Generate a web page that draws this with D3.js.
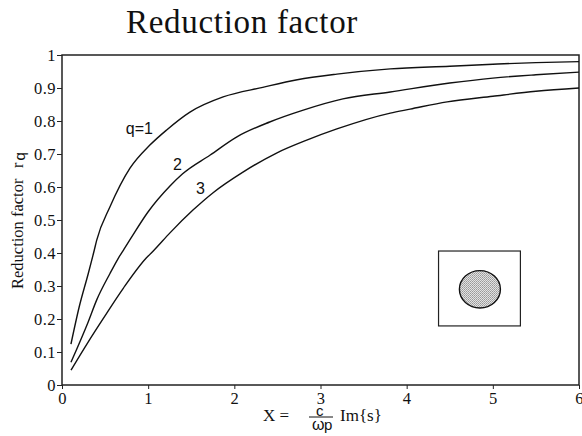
<!DOCTYPE html>
<html>
<head>
<meta charset="utf-8">
<script src="https://cdn.jsdelivr.net/npm/d3@7"></script>
<style>
  html, body { margin: 0; padding: 0; background: #fff; }
  svg { display: block; }
  text { fill: #111; }
  .serif { font-family: "Liberation Serif", serif; }
  .sans { font-family: "Liberation Sans", sans-serif; }
</style>
</head>
<body>
<div id="chart"></div>
<script>
// Values
const xTicks = [0, 1, 2, 3, 4, 5, 6];
const yTicks = [0, 0.1, 0.2, 0.3, 0.4, 0.5, 0.6, 0.7, 0.8, 0.9, 1];

const q1X = [0.104, 0.2, 0.305, 0.375, 0.403, 0.557, 0.789, 1.02, 1.215, 1.485, 1.87, 2.33, 2.73, 3.19, 3.81, 4.5, 5, 5.5, 6];
const q1Y = [0.124, 0.237, 0.338, 0.409, 0.439, 0.54, 0.657, 0.727, 0.773, 0.827, 0.873, 0.902, 0.925, 0.942, 0.958, 0.966, 0.972, 0.977, 0.98];

const q2X = [0.104, 0.305, 0.403, 0.557, 0.653, 0.72, 0.8, 1, 1.253, 1.4, 1.72, 2.03, 2.41, 2.8, 3.26, 3.81, 4.5, 5, 5.5, 6];
const q2Y = [0.069, 0.192, 0.258, 0.338, 0.384, 0.412, 0.445, 0.525, 0.603, 0.64, 0.697, 0.752, 0.797, 0.833, 0.867, 0.888, 0.915, 0.93, 0.94, 0.948];

const q3X = [0.104, 0.305, 0.48, 0.711, 0.975, 1.07, 1.253, 1.52, 1.75, 2.1, 2.49, 2.84, 3.19, 3.81, 4.04, 4.47, 5, 5.5, 6];
const q3Y = [0.045, 0.131, 0.202, 0.293, 0.384, 0.409, 0.461, 0.53, 0.582, 0.645, 0.703, 0.742, 0.776, 0.824, 0.836, 0.858, 0.875, 0.89, 0.9];

const curveLabels = ["q=1", "2", "3"];

// Dimensions
const margin = { top: 55, right: 3, bottom: 51, left: 62 },
      width = 582 - margin.left - margin.right,
      height = 436 - margin.top - margin.bottom;

const root = d3.select("#chart")
  .append("svg")
  .attr("width", 582)
  .attr("height", 436);

// Stipple for the disc in the inset
const pattern = root.append("defs").append("pattern")
  .attr("id", "stipple")
  .attr("width", 2)
  .attr("height", 2)
  .attr("patternUnits", "userSpaceOnUse");
pattern.append("rect").attr("width", 2).attr("height", 2).attr("fill", "#e2e2e2");
pattern.append("rect").attr("width", 1).attr("height", 1).attr("fill", "#999");
pattern.append("rect").attr("x", 1).attr("y", 1).attr("width", 1).attr("height", 1).attr("fill", "#aaa");

const svg = root.append("g")
  .attr("transform", `translate(${margin.left},${margin.top})`);

// Scales
const xScale = d3.scaleLinear().domain([0, 6]).range([0, width]);
const yScale = d3.scaleLinear().domain([0, 1]).range([height, 0]);

// Frame
svg.append("rect")
  .attr("width", width)
  .attr("height", height)
  .attr("fill", "none")
  .attr("stroke", "#222")
  .attr("stroke-width", 1.5);

// Axes
const xAxis = svg.append("g")
  .attr("transform", `translate(0, ${height})`)
  .call(d3.axisBottom(xScale).tickValues(xTicks).tickFormat(d3.format("d")).tickSize(4).tickPadding(3));

const yAxis = svg.append("g")
  .call(d3.axisLeft(yScale).tickValues(yTicks).tickFormat(d => d3.format("")(d)).tickSize(5).tickPadding(1));

[xAxis, yAxis].forEach(a => {
  a.select(".domain").remove();
  a.selectAll("line").attr("stroke", "#222");
  a.selectAll("text")
    .attr("class", "serif")
    .style("font-size", "16.5px")
    .style("letter-spacing", "0.5px")
    .style("fill", "#111");
});

// Curves
const line = d3.line()
  .curve(d3.curveMonotoneX)
  .x(d => xScale(d[0]))
  .y(d => yScale(d[1]));

[[q1X, q1Y], [q2X, q2Y], [q3X, q3Y]].forEach(([xs, ys]) => {
  svg.append("path")
    .datum(d3.zip(xs, ys))
    .attr("fill", "none")
    .attr("stroke", "#111")
    .attr("stroke-width", 1.4)
    .attr("d", line);
});

// Curve labels
const labelSpots = [[0.74, 0.761], [1.288, 0.652], [1.555, 0.579]];
curveLabels.forEach((t, i) => {
  svg.append("text")
    .attr("class", "sans")
    .attr("x", xScale(labelSpots[i][0]))
    .attr("y", yScale(labelSpots[i][1]))
    .attr("font-size", 16)
    .text(t);
});

// Inset
svg.append("rect")
  .attr("x", xScale(4.37))
  .attr("y", yScale(0.406))
  .attr("width", xScale(5.32) - xScale(4.37))
  .attr("height", yScale(0.179) - yScale(0.406))
  .attr("fill", "none")
  .attr("stroke", "#222")
  .attr("stroke-width", 1.2);

svg.append("ellipse")
  .attr("cx", xScale(4.85))
  .attr("cy", yScale(0.29))
  .attr("rx", 20.5)
  .attr("ry", 18.7)
  .attr("fill", "url(#stipple)")
  .attr("stroke", "#111")
  .attr("stroke-width", 1.4);

// Title
root.append("text")
  .attr("class", "serif")
  .attr("x", 126)
  .attr("y", 33)
  .attr("font-size", 33)
  .attr("letter-spacing", 0.7)
  .text("Reduction factor");

// Y label
root.append("text")
  .attr("class", "serif")
  .attr("transform", "translate(23,289) rotate(-90)")
  .attr("font-size", 16.5)
  .text("Reduction factor");

root.append("text")
  .attr("class", "serif")
  .attr("transform", "translate(23,168) rotate(-90)")
  .attr("font-size", 16)
  .text("r");

root.append("text")
  .attr("class", "sans")
  .attr("transform", "translate(25,160.5) rotate(-90)")
  .attr("font-size", 15)
  .text("q");

// X label
root.append("text").attr("class", "serif").attr("x", 263).attr("y", 421).attr("font-size", 17).text("X =");
root.append("text").attr("class", "sans").attr("x", 316).attr("y", 415.5).attr("font-size", 15).text("c");
root.append("line").attr("x1", 309).attr("x2", 333).attr("y1", 417).attr("y2", 417).attr("stroke", "#111");
root.append("text").attr("class", "sans").attr("x", 312).attr("y", 430).attr("font-size", 16).text("ω");
root.append("text").attr("class", "sans").attr("x", 324).attr("y", 430).attr("font-size", 15).text("p");
root.append("text").attr("class", "serif").attr("x", 340).attr("y", 421).attr("font-size", 17).text("Im{s}");
</script>
</body>
</html>
